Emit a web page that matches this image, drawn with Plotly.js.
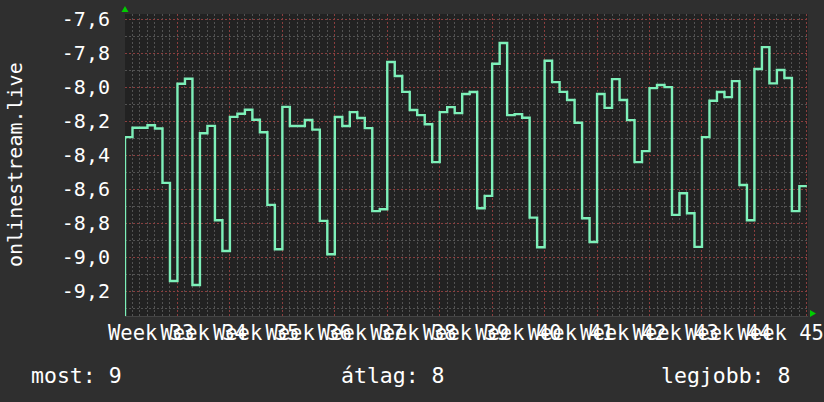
<!DOCTYPE html>
<html>
<head>
<meta charset="utf-8">
<script src="https://cdn.plot.ly/plotly-3.0.1.min.js"></script>
<style>
  html, body { margin: 0; padding: 0; background: #2f2f2f; }
  #chart { width: 824px; height: 402px; }
</style>
</head>
<body>
<div id="chart"></div>
<script>
// ---- data (daily values) ----
const dayValues = [
  -8.294, -8.239, -8.239, -8.224, -8.243, -8.563, -9.139,
  -7.980, -7.951, -9.163, -8.271, -8.228, -8.782, -8.963,
  -8.175, -8.157, -8.133, -8.192, -8.265, -8.692, -8.953,
  -8.116, -8.229, -8.229, -8.193, -8.250, -8.786, -8.982,
  -8.176, -8.229, -8.147, -8.182, -8.241, -8.729, -8.718,
  -7.853, -7.935, -8.028, -8.135, -8.165, -8.218, -8.441,
  -8.147, -8.118, -8.153, -8.041, -8.029, -8.712, -8.639,
  -7.863, -7.741, -8.165, -8.159, -8.180, -8.767, -8.941,
  -7.845, -7.971, -8.028, -8.076, -8.210, -8.771, -8.910,
  -8.041, -8.122, -7.953, -8.076, -8.194, -8.441, -8.376,
  -8.006, -7.988, -8.000, -8.751, -8.624, -8.741, -8.939,
  -8.294, -8.080, -8.029, -8.059, -7.965, -8.575, -8.782,
  -7.894, -7.765, -7.978, -7.900, -7.947, -8.729, -8.582
];
const weekLabels = ['Week 33','Week 34','Week 35','Week 36','Week 37','Week 38','Week 39',
                    'Week 40','Week 41','Week 42','Week 43','Week 44','Week 45'];
const yTickVals = [-9.2, -9.0, -8.8, -8.6, -8.4, -8.2, -8.0, -7.8, -7.6];
const yTickText = ['-9,2', '-9,0', '-8,8', '-8,6', '-8,4', '-8,2', '-8,0', '-7,8', '-7,6'];
const seriesName = 'onlinestream.live';
const summaryTexts = ['most: 9', 'átlag: 8', 'legjobb: 8'];

// ---- derived ----
const yRange = [-9.345, -7.5706];
const xRange = [0, 91.15];
const daysPerWeek = 7;
const xs = [0];
const ys = [yRange[0]];
dayValues.forEach((v, i) => { xs.push(i); ys.push(v); });
xs.push(dayValues.length);
ys.push(dayValues[dayValues.length - 1]);

const weekStarts = weekLabels.map((_, k) => k * daysPerWeek).concat([weekLabels.length * daysPerWeek]);
const weekCenters = weekLabels.map((_, k) => k * daysPerWeek + daysPerWeek / 2);
const dayTicks = [];
for (let d = 1; d <= weekLabels.length * daysPerWeek; d++) { if (d % daysPerWeek !== 0) dayTicks.push(d); }
const yMinorVals = yTickVals.map(v => +(v - 0.1).toFixed(2));

const FONT = 'DejaVu Sans Mono, monospace';
const MAJOR = '#8a3e3e';
const MINOR = '#525252';
const DASH = '2px,2px';

const trace = {
  x: xs, y: ys, type: 'scatter', mode: 'lines',
  line: { shape: 'hv', color: '#7df0b9', width: 2.4 },
  hoverinfo: 'skip', xaxis: 'x', yaxis: 'y'
};
// carries the week labels axis (draws nothing)
const labelAxisTrace = {
  x: weekCenters, y: weekCenters.map(() => null), type: 'scatter', mode: 'lines',
  hoverinfo: 'skip', xaxis: 'x2', yaxis: 'y', showlegend: false
};

const layout = {
  width: 824, height: 402,
  paper_bgcolor: '#2f2f2f', plot_bgcolor: '#222222',
  margin: { l: 125, r: 16, t: 14, b: 86, pad: 0 },
  showlegend: false,
  font: { family: FONT, color: '#ffffff', size: 20 },
  xaxis: {
    range: xRange, tickmode: 'array', tickvals: weekStarts, showticklabels: false,
    showgrid: true, gridcolor: MAJOR, griddash: DASH, gridwidth: 1,
    minor: { tickmode: 'array', tickvals: dayTicks, showgrid: true, gridcolor: MINOR, griddash: DASH, gridwidth: 1 },
    zeroline: false, showline: true, linecolor: '#444444', linewidth: 1, ticks: ''
  },
  xaxis2: {
    overlaying: 'x', anchor: 'y', side: 'bottom', range: xRange,
    tickmode: 'array', tickvals: weekCenters, ticktext: weekLabels, tickangle: 0,
    showgrid: false, zeroline: false, showline: false, ticks: '',
    ticklabelstandoff: 2,
    tickfont: { family: FONT, color: '#ffffff', size: 20.5 }
  },
  yaxis: {
    range: yRange, tickmode: 'array', tickvals: yTickVals, ticktext: yTickText,
    showgrid: true, gridcolor: MAJOR, griddash: DASH, gridwidth: 1,
    minor: { tickmode: 'array', tickvals: yMinorVals, showgrid: true, gridcolor: MINOR, griddash: DASH, gridwidth: 1 },
    zeroline: false, showline: false, ticks: '', ticklabelstandoff: 14,
    tickfont: { family: FONT, color: '#ffffff', size: 20 }
  },
  annotations: [
    { text: seriesName, xref: 'paper', yref: 'paper', x: 0, y: 0.5, xanchor: 'center', yanchor: 'middle',
      xshift: -110, textangle: -90, showarrow: false, font: { family: FONT, size: 20, color: '#ffffff' } },
    { text: summaryTexts[0], xref: 'paper', yref: 'paper', x: 0, y: 0, xanchor: 'left', yanchor: 'middle',
      xshift: -96, yshift: -59, showarrow: false, font: { family: FONT, size: 21.5, color: '#ffffff' } },
    { text: summaryTexts[1], xref: 'paper', yref: 'paper', x: 0, y: 0, xanchor: 'left', yanchor: 'middle',
      xshift: 214, yshift: -59, showarrow: false, font: { family: FONT, size: 21.5, color: '#ffffff' } },
    { text: summaryTexts[2], xref: 'paper', yref: 'paper', x: 0, y: 0, xanchor: 'left', yanchor: 'middle',
      xshift: 534, yshift: -59, showarrow: false, font: { family: FONT, size: 21.5, color: '#ffffff' } }
  ],
  shapes: [
    { type: 'path', xref: 'paper', yref: 'paper', xsizemode: 'pixel', ysizemode: 'pixel',
      xanchor: 0, yanchor: 1, path: 'M-3.5,2 L3.5,2 L0,8 Z', fillcolor: '#00cc00', line: { width: 0 } },
    { type: 'path', xref: 'paper', yref: 'paper', xsizemode: 'pixel', ysizemode: 'pixel',
      xanchor: 1, yanchor: 0, path: 'M2,-1 L2,6 L8,2.5 Z', fillcolor: '#00cc00', line: { width: 0 } }
  ]
};

Plotly.newPlot('chart', [trace, labelAxisTrace], layout, { staticPlot: true, displayModeBar: false });
</script>
</body>
</html>
